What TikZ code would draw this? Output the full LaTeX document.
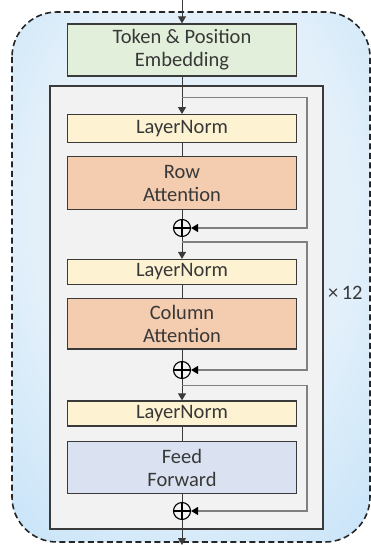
\documentclass[tikz,border=0pt]{standalone}
\usepackage{fontspec}
\setmainfont{Carlito}
\usetikzlibrary{arrows.meta}
\definecolor{bglight}{HTML}{E3F0FA}
\definecolor{bgmid}{HTML}{C2E1F8}
\definecolor{bgdark}{HTML}{90CCF4}
\definecolor{boxline}{HTML}{3A3A3A}
\definecolor{txt}{HTML}{383838}
\definecolor{embfill}{HTML}{E2EFDA}
\definecolor{lnfill}{HTML}{FDF3D2}
\definecolor{attfill}{HTML}{F4CDB0}
\definecolor{fffill}{HTML}{DAE2F2}
\definecolor{innerfill}{HTML}{F2F2F2}
\definecolor{skipcol}{HTML}{808080}
\pgfdeclareradialshading{bgshade}{\pgfpoint{0bp}{8bp}}{color(0bp)=(bglight); color(22bp)=(bglight); color(42bp)=(bgmid); color(56bp)=(bgdark); color(80bp)=(bgdark)}
\begin{document}
\begin{tikzpicture}[x=1pt,y=-1pt,
  blk/.style={draw=boxline, line width=1.3pt, text=txt,
    font=\fontsize{20.5}{23}\selectfont, align=center, inner sep=0pt,
    minimum width=229pt},
  addnode/.style={circle, draw=black, line width=1.1pt, minimum size=17pt, inner sep=0pt,
    path picture={\draw[black, line width=1.1pt]
      (path picture bounding box.north) -- (path picture bounding box.south)
      (path picture bounding box.west) -- (path picture bounding box.east);}},
  mainline/.style={draw=boxline, line width=1pt},
  arr/.style={mainline, -{Triangle[width=8pt,length=7pt]}},
  skip/.style={draw=skipcol, line width=1.2pt},
  skiparr/.style={skip, -{Triangle[width=8pt,length=7pt,fill=black,color=black]}}
]
\useasboundingbox (0,0) rectangle (371,545);
% background
\shade[shading=bgshade, rounded corners=45pt]
  (12,12) rectangle (370,542);
\draw[black!85, line width=1.6pt, dash pattern=on 6pt off 3.5pt, rounded corners=45pt]
  (12,12) rectangle (370,542);
% inner block
\node[draw=boxline, line width=1.3pt, fill=innerfill, minimum width=273pt,
  minimum height=443pt, inner sep=0pt] (inner) at (186.5,307.5) {};
% boxes
\node[blk, fill=embfill, minimum height=52pt] (emb) at (182,50) {Token \& Position\\Embedding};
\node[blk, fill=lnfill, minimum height=28pt] (ln1) at (182,128.7) {LayerNorm};
\node[blk, fill=attfill, minimum height=52.5pt] (row) at (182,183) {Row\\Attention};
\node[addnode] (p1) at (182,228) {};
\node[blk, fill=lnfill, minimum height=25pt] (ln2) at (182,272) {LayerNorm};
\node[blk, fill=attfill, minimum height=50.5pt] (col) at (182,323.7) {Column\\Attention};
\node[addnode] (p2) at (182,370) {};
\node[blk, fill=lnfill, minimum height=25pt] (ln3) at (182,413.5) {LayerNorm};
\node[blk, fill=fffill, minimum height=51.5pt] (ff) at (182,467.5) {Feed\\Forward};
\node[addnode] (p3) at (182,511) {};
\node[text=txt, font=\fontsize{20.5}{23}\selectfont, anchor=west, inner sep=0pt] (rep) at (328,293) {\texttimes\,12};
% in / out
\coordinate (in) at (182,0);
\coordinate (out) at (182,545);
\coordinate (s1a) at (182,97.5);
\coordinate (s1b) at (307,97.5);
\coordinate (s2a) at (182,242);
\coordinate (s2b) at (307,242);
\coordinate (s3a) at (182,385.5);
\coordinate (s3b) at (307,385.5);
% main flow
\draw[arr] (in) -- (emb.north);
\draw[arr] (emb.south) -- (ln1.north);
\draw[mainline] (ln1.south) -- (row.north);
\draw[mainline] (row.south) -- (p1.north);
\draw[arr] (p1.south) -- (ln2.north);
\draw[mainline] (ln2.south) -- (col.north);
\draw[mainline] (col.south) -- (p2.north);
\draw[arr] (p2.south) -- (ln3.north);
\draw[mainline] (ln3.south) -- (ff.north);
\draw[mainline] (ff.south) -- (p3.north);
\draw[arr] (p3.south) -- (out);
% skip connections
\draw[skiparr] (s1a) -- (s1b) |- (p1.east);
\draw[skiparr] (s2a) -- (s2b) |- (p2.east);
\draw[skiparr] (s3a) -- (s3b) |- (p3.east);
\end{tikzpicture}
\end{document}
